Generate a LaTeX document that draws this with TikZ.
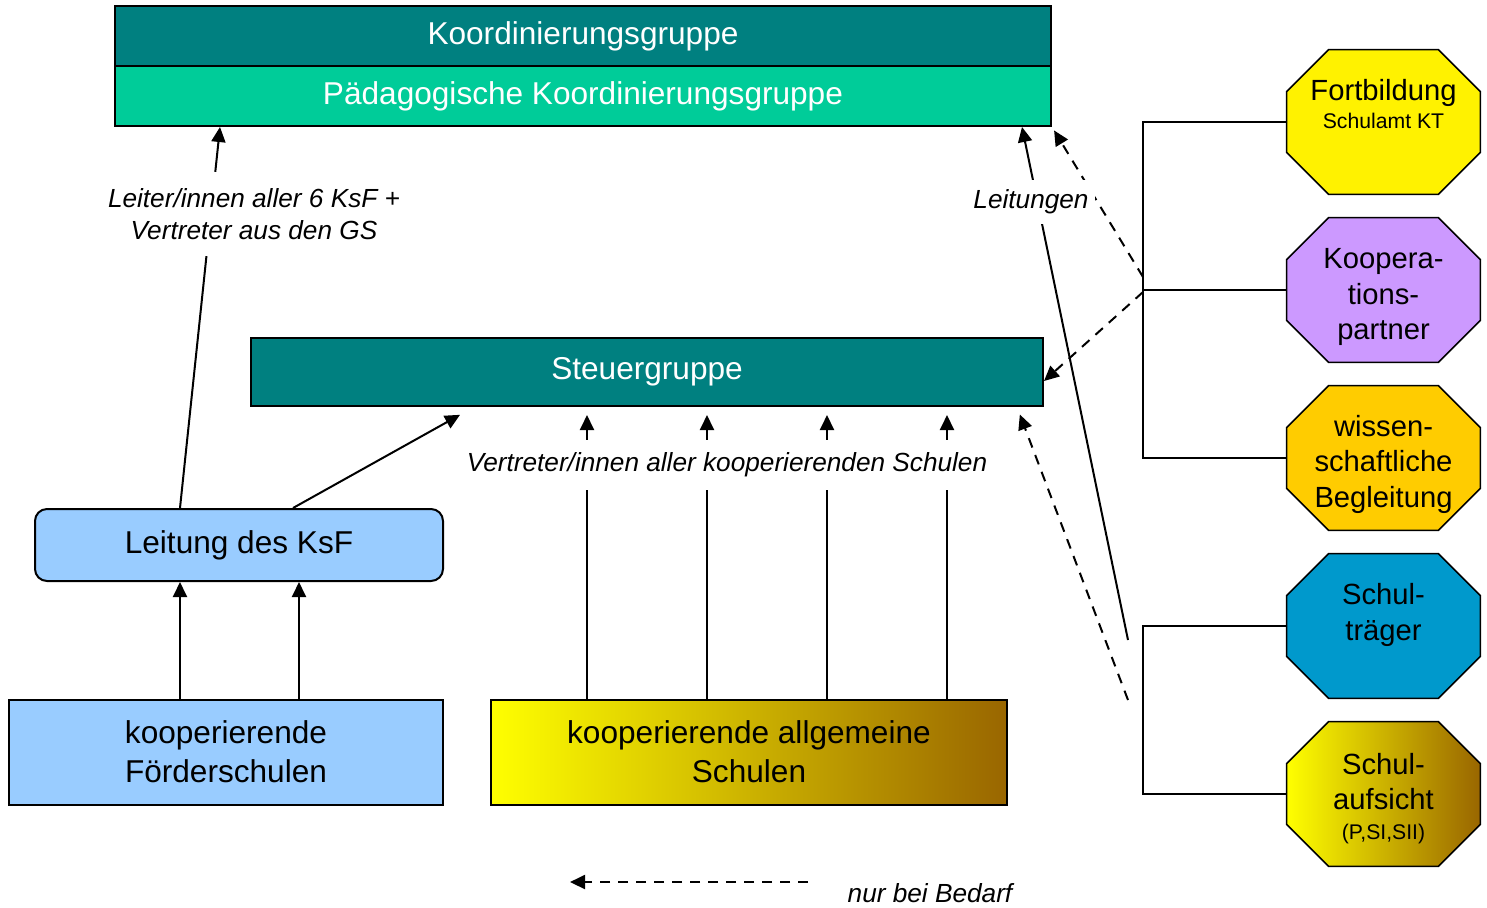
\documentclass[tikz,border=0pt]{standalone}
\usepackage{fontspec}
\setmainfont{Liberation Sans}
\usetikzlibrary{arrows.meta}
\definecolor{tealA}{RGB}{0,128,128}
\definecolor{mintA}{RGB}{0,204,153}
\definecolor{blueA}{RGB}{153,204,255}
\definecolor{lilaA}{RGB}{204,153,255}
\definecolor{goldA}{RGB}{255,204,0}
\definecolor{ceruA}{RGB}{0,153,204}
\definecolor{brownA}{RGB}{153,102,0}
\pgfdeclarelayer{bg}
\pgfsetlayers{bg,main}
% octagon behind a (rectangular) node
\newcommand\octback[2]{%
  \begin{pgfonlayer}{bg}
    \path [draw,line width=0.8pt,#2] ([xshift=21pt]#1.north west) -- ([xshift=-21pt]#1.north east)
      -- ([yshift=-21pt]#1.north east) -- ([yshift=21pt]#1.south east)
      -- ([xshift=-21pt]#1.south east) -- ([xshift=21pt]#1.south west)
      -- ([yshift=21pt]#1.south west) -- ([yshift=-21pt]#1.north west) -- cycle;
  \end{pgfonlayer}}
\begin{document}
\begin{tikzpicture}[x=0.5pt,y=-0.5pt,
    >={Triangle[length=7.5pt,width=7pt]},
    every edge/.style={draw,line width=1pt},
    nb/.style={dash pattern=on 5pt off 4pt},
    box/.style={draw,line width=1pt,inner sep=0pt,align=center,
      font=\fontsize{15.8}{19.5}\selectfont},
    oct/.style={minimum width=96.5pt,minimum height=72pt,inner sep=0pt},
    octtxt/.style={align=center,inner sep=0pt,font=\fontsize{14.6}{17.75}\selectfont},
    lbl/.style={fill=white,inner xsep=3pt,align=center,
      font=\fontsize{13.1}{16}\selectfont\itshape}]
    \useasboundingbox (0,0) rectangle (1487,907);
    \def\sm{\fontsize{10.6}{13}\selectfont}
    % left and middle column
    \node (A0_0) [box,fill=tealA,text=white,minimum width=468pt,minimum height=30.5pt] at (583,36) {Koordinierungsgruppe};
    \node (A1_0) [box,fill=mintA,text=white,minimum width=468pt,minimum height=30pt] at (583,96) {Pädagogische Koordinierungsgruppe};
    \node (A2_0) [box,fill=tealA,text=white,minimum width=396pt,minimum height=34pt] at (647,372) {Steuergruppe};
    \node (A3_0) [box,fill=blueA,rounded corners=6pt,minimum width=204pt,minimum height=36pt] at (239,545) {Leitung des KsF};
    \node (A4_0) [box,fill=blueA,minimum width=217pt,minimum height=52.5pt] at (226,752) {kooperierende\\Förderschulen};
    \node (A4_1) [box,left color=yellow,right color=brownA,minimum width=258pt,minimum height=52.5pt] at (749,752) {kooperierende allgemeine\\Schulen};
    % right column
    \node (A0_2) [oct,label={[octtxt,yshift=9pt]center:{Fortbildung\\[-3.5pt]{\sm Schulamt KT}}}] at (1383.5,122) {};
    \node (A1_2) [oct,label={[octtxt,yshift=-3.5pt]center:{Koopera-\\tions-\\partner}}] at (1383.5,290) {};
    \node (A2_2) [oct,label={[octtxt,yshift=-3.2pt]center:{wissen-\\schaftliche\\Begleitung}}] at (1383.5,458) {};
    \node (A3_2) [oct,label={[octtxt,yshift=5.5pt]center:{Schul-\\träger}}] at (1383.5,626) {};
    \node (A4_2) [oct,label={[octtxt,yshift=-2.2pt]center:{Schul-\\aufsicht\\[-3pt]{\sm (P,SI,SII)}}}] at (1383.5,794) {};
    \octback{A0_2}{fill=yellow}
    \octback{A1_2}{fill=lilaA}
    \octback{A2_2}{fill=goldA}
    \octback{A3_2}{fill=ceruA}
    \octback{A4_2}{left color=yellow,right color=brownA}
    \draw [line width=0.75pt] (A0_2.west) -- (A0_2.west -| 1143,0) -- (A2_2.west -| 1143,0) -- (A2_2.west);
    \draw [line width=0.75pt] (A1_2.west) -- (A1_2.west -| 1143,0);
    \draw [line width=0.75pt] (A3_2.west) -- (A3_2.west -| 1143,0) -- (A4_2.west -| 1143,0) -- (A4_2.west);
    \coordinate (G0) at (1143,277);
    \coordinate (G1) at (1143,292);
    \coordinate (G2) at (1128,640);
    \coordinate (G3) at (1128,700);
    % connectors
    \path (A3_0.north -| 180,0) edge [->] (A1_0.south -| 220,0);
    \path (A3_0.north -| 293,0) edge [->,shorten >=8pt] (A2_0.south -| 474,0);
    \foreach \xx in {180,299}
      \path (A4_0.north -| \xx,0) edge [->] (A3_0.south -| \xx,0);
    \foreach \xx in {587,707,827,947}
      \path (A4_1.north -| \xx,0) edge [->,shorten >=4pt] (A2_0.south -| \xx,0);
    \path (G2) edge [->] (A1_0.south -| 1022,0);
    \path (G0) edge [->,nb,shorten >=2pt] (A1_0.south east);
    \path (G1) edge [->,nb] (A2_0.east |- 0,381);
    \path (G3) edge [->,nb,shorten >=4pt] (A2_0.south -| 1017,0);
    % labels
    \node (T0) [lbl,inner ysep=8pt] at (254,214) {Leiter/innen aller 6 KsF +\\Vertreter aus den GS};
    \node (T1) [lbl,inner ysep=6.5pt] at (727,465) {Vertreter/innen aller kooperierenden Schulen};
    \node (T2) [lbl,inner ysep=5pt] at (1031,202) {Leitungen};
    % legend
    \coordinate (L0) at (808,882);
    \coordinate (L1) at (570,882);
    \path (L0) edge [->,nb] (L1);
    \node (T3) [lbl,fill=none] at (930,893) {nur bei Bedarf};
\end{tikzpicture}
\end{document}
